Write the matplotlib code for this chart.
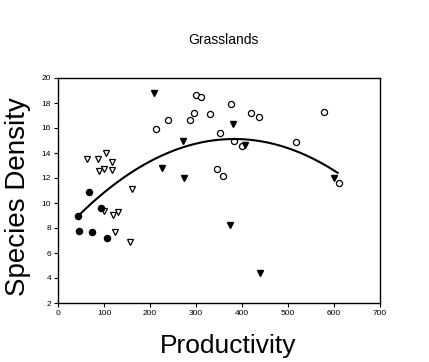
import numpy as np
import matplotlib
matplotlib.use("Agg")
import matplotlib.pyplot as plt

plt.rcParams['font.family'] = ['Liberation Sans', 'DejaVu Sans']

# Filled circles
fc_x = [44, 67, 93, 46, 74, 106]
fc_y = [9.0, 10.9, 9.6, 7.8, 7.7, 7.2]
# Open down-triangles
ot_x = [62, 88, 105, 117, 89, 101, 118, 161, 101, 120, 130, 124, 157]
ot_y = [13.5, 13.5, 14.0, 13.3, 12.6, 12.75, 12.67, 11.1, 9.4, 9.06, 9.27, 7.68, 6.88]
# Filled down-triangles
ft_x = [209, 272, 227, 274, 380, 374, 440, 601, 406]
ft_y = [18.8, 15.0, 12.8, 12.0, 16.3, 8.27, 4.39, 12.0, 14.64]
# Open circles
oc_x = [214, 239, 287, 295, 331, 299, 311, 375, 352, 383, 399, 419, 438, 345, 358, 518, 578, 611]
oc_y = [15.9, 16.6, 16.6, 17.2, 17.1, 18.6, 18.5, 17.9, 15.6, 15.0, 14.6, 17.2, 16.9, 12.7, 12.2, 14.9, 17.3, 11.6]

# Quadratic fit curve (peak, curvature)
curve_x_range = [44, 608]
curve_peak_x = 383
curve_peak_y = 15.12
curve_k = 5.35e-5

fig = plt.figure(figsize=(4.29, 3.62), dpi=100)
ax = fig.add_axes([58/429, 1-303/362, (380-58)/429, (303-78)/362])

ax.plot(ot_x, ot_y, linestyle='none', marker='v', markersize=4.6, markerfacecolor='white', markeredgecolor='black', markeredgewidth=0.9)
ax.plot(oc_x, oc_y, linestyle='none', marker='o', markersize=4.4, markerfacecolor='white', markeredgecolor='black', markeredgewidth=0.9)
ax.plot(ft_x, ft_y, linestyle='none', marker='v', markersize=4.6, color='black')
ax.plot(fc_x, fc_y, linestyle='none', marker='o', markersize=4.4, color='black')

cx = np.linspace(curve_x_range[0], curve_x_range[1], 200)
cy = curve_peak_y - curve_k * (cx - curve_peak_x) ** 2
ax.plot(cx, cy, color='black', linewidth=1.5)

ax.set_xlim(0, 700)
ax.set_ylim(2, 20)
ax.set_xticks(range(0, 701, 100))
ax.set_yticks(range(2, 21, 2))
ax.tick_params(direction='out', length=3, width=0.8, labelsize=6, pad=2)
for s in ax.spines.values():
    s.set_linewidth(1.0)

fig.text(223/429, 1-40/362, 'Grasslands', ha='center', va='center', fontsize=10)
fig.text(18/429, 1-197/362, 'Species Density', ha='center', va='center', rotation=90, fontsize=20)
fig.text(228/429, 1-346/362, 'Productivity', ha='center', va='center', fontsize=19)

fig.savefig('out.png', dpi=100)
